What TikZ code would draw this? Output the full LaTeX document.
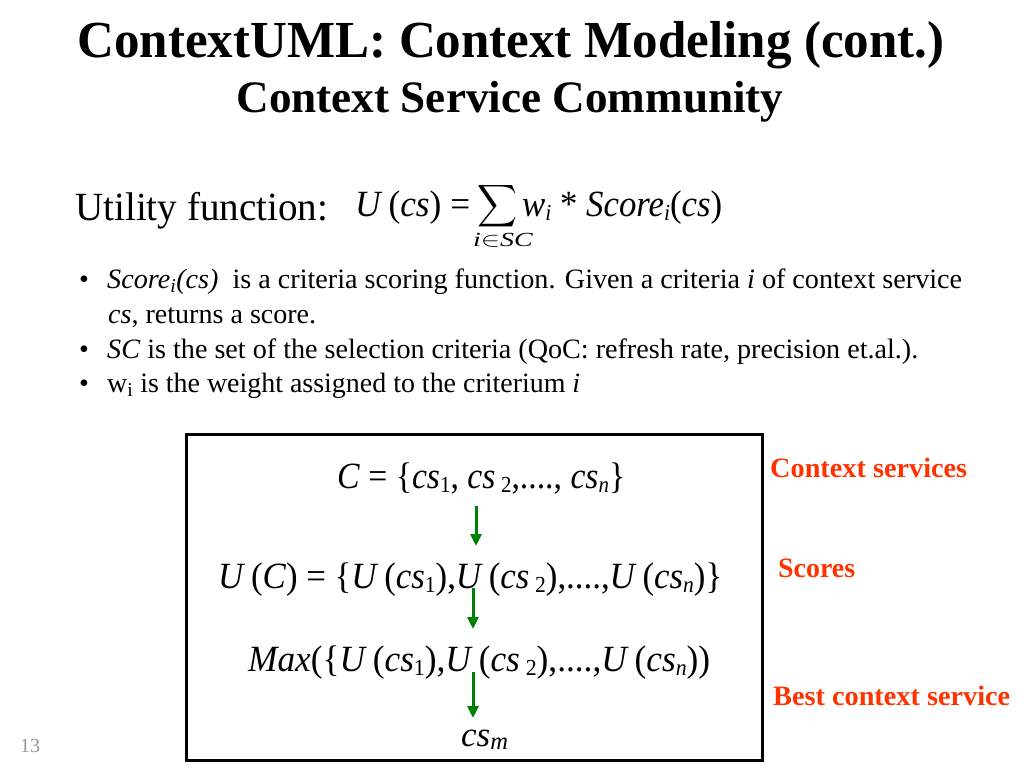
\documentclass[tikz,border=0pt]{standalone}
\usepackage{fontspec}
\setmainfont{Liberation Serif}
\usepackage{graphicx}
\usetikzlibrary{arrows.meta}
\definecolor{lblred}{RGB}{255,51,0}
\definecolor{arrgreen}{RGB}{0,128,0}
\definecolor{pagegray}{RGB}{150,150,150}
\newcommand\fitw[2]{\resizebox{#1pt}{\height}{#2}}
\newcommand\lsub[1]{\raisebox{-0.12em}{\scalebox{0.62}{#1}}}
\newcommand\iv[1]{\textit{#1}}
\begin{document}
\begin{tikzpicture}[x=1pt,y=-1pt,
  txt/.style={inner sep=0pt, anchor=base west},
  ttl/.style={inner sep=0pt, anchor=base},
  bul/.style={txt, font=\fontsize{28}{32}\selectfont},
  eqn/.style={txt, font=\fontsize{37}{41}\selectfont},
  lbl/.style={txt, text=lblred, font=\fontsize{28}{32}\selectfont\bfseries},
  flow/.style={draw=arrgreen, line width=3pt, -{Triangle[length=12pt,width=11pt]}},
  frame/.style={draw, line width=3pt, inner sep=0pt}]
\useasboundingbox[fill=white] (0,0) rectangle (1024,768);

% titles
\node[ttl, font=\fontsize{52}{56}\selectfont\bfseries] (title) at (511,57) {\fitw{867}{ContextUML: Context Modeling (cont.)}};
\node[ttl, font=\fontsize{45}{50}\selectfont\bfseries] (subtitle) at (510,112) {\fitw{547}{Context Service Community}};

% utility function
\node[txt, font=\fontsize{40}{44}\selectfont] (util) at (75,220) {\fitw{253}{Utility function:}};
\node[txt, font=\fontsize{37}{40}\selectfont] (ueq1) at (355,216) {\fitw{115}{\iv{U}\,(\iv{cs}) =}};
\node[inner sep=0pt, font=\fontsize{30}{34}\selectfont] (usum) at (497,206) {\resizebox{40pt}{42pt}{$\displaystyle\sum$}};
\node[inner sep=0pt, font=\fontsize{20}{24}\selectfont] (usub) at (503,240) {\fitw{60}{\iv{i}$\in$\iv{SC}}};
\node[txt, font=\fontsize{37}{40}\selectfont] (ueq2) at (522,216) {\fitw{200}{\iv{w}\lsub{\iv{i}} * \iv{Score}\lsub{\iv{i}}(\iv{cs})}};

% bullets
\node[bul] (b1) at (79,288) {•};
\node[bul] (t1) at (107,288) {\fitw{855}{\iv{Score}\textsubscript{\iv{i}}\iv{(cs)}\ \ is a criteria scoring function. Given a criteria \iv{i} of context service}};
\node[bul] (t1b) at (108,323) {\fitw{208}{\iv{cs}, returns a score.}};
\node[bul] (b2) at (79,358) {•};
\node[bul] (t2) at (107,358) {\fitw{811}{\iv{SC} is the set of the selection criteria (QoC: refresh rate, precision et.al.).}};
\node[bul] (b3) at (79,392) {•};
\node[bul] (t3) at (107,392) {\fitw{473}{w\textsubscript{i} is the weight assigned to the criterium \iv{i}}};

% box
\node[frame, minimum width=576pt, minimum height=326pt] (box) at (474,597) {};
\node[eqn] (f1) at (337,488) {\fitw{288}{\iv{C} = \{\iv{cs}\lsub{1}, \iv{cs}\,\lsub{2},...., \iv{cs}\lsub{\iv{n}}\}}};
\node[eqn] (f2) at (218,588) {\fitw{504}{\iv{U}\,(\iv{C}) = \{\iv{U}\,(\iv{cs}\lsub{1}),\iv{U}\,(\iv{cs}\,\lsub{2}),....,\iv{U}\,(\iv{cs}\lsub{\iv{n}})\}}};
\node[eqn] (f3) at (248,671) {\fitw{462}{\iv{Max}(\{\iv{U}\,(\iv{cs}\lsub{1}),\iv{U}\,(\iv{cs}\,\lsub{2}),....,\iv{U}\,(\iv{cs}\lsub{\iv{n}}))}};
\node[txt, font=\fontsize{35}{40}\selectfont] (f4) at (461,746) {\iv{cs}\textsubscript{\iv{m}}};

\coordinate (a1s) at (476,506); \coordinate (a1e) at (476,546);
\coordinate (a2s) at (473,588); \coordinate (a2e) at (473,629);
\coordinate (a3s) at (473,672); \coordinate (a3e) at (473,718);
\draw[flow] (a1s) -- (a1e);
\draw[flow] (a2s) -- (a2e);
\draw[flow] (a3s) -- (a3e);

% labels
\node[lbl] (l1) at (770,477) {\fitw{197}{Context services}};
\node[lbl] (l2) at (778,577) {\fitw{77}{Scores}};
\node[lbl] (l3) at (773,705) {\fitw{237}{Best context service}};

\node[txt, text=pagegray, font=\fontsize{20}{22}\selectfont] (pg) at (20,752) {13};
\end{tikzpicture}
\end{document}
